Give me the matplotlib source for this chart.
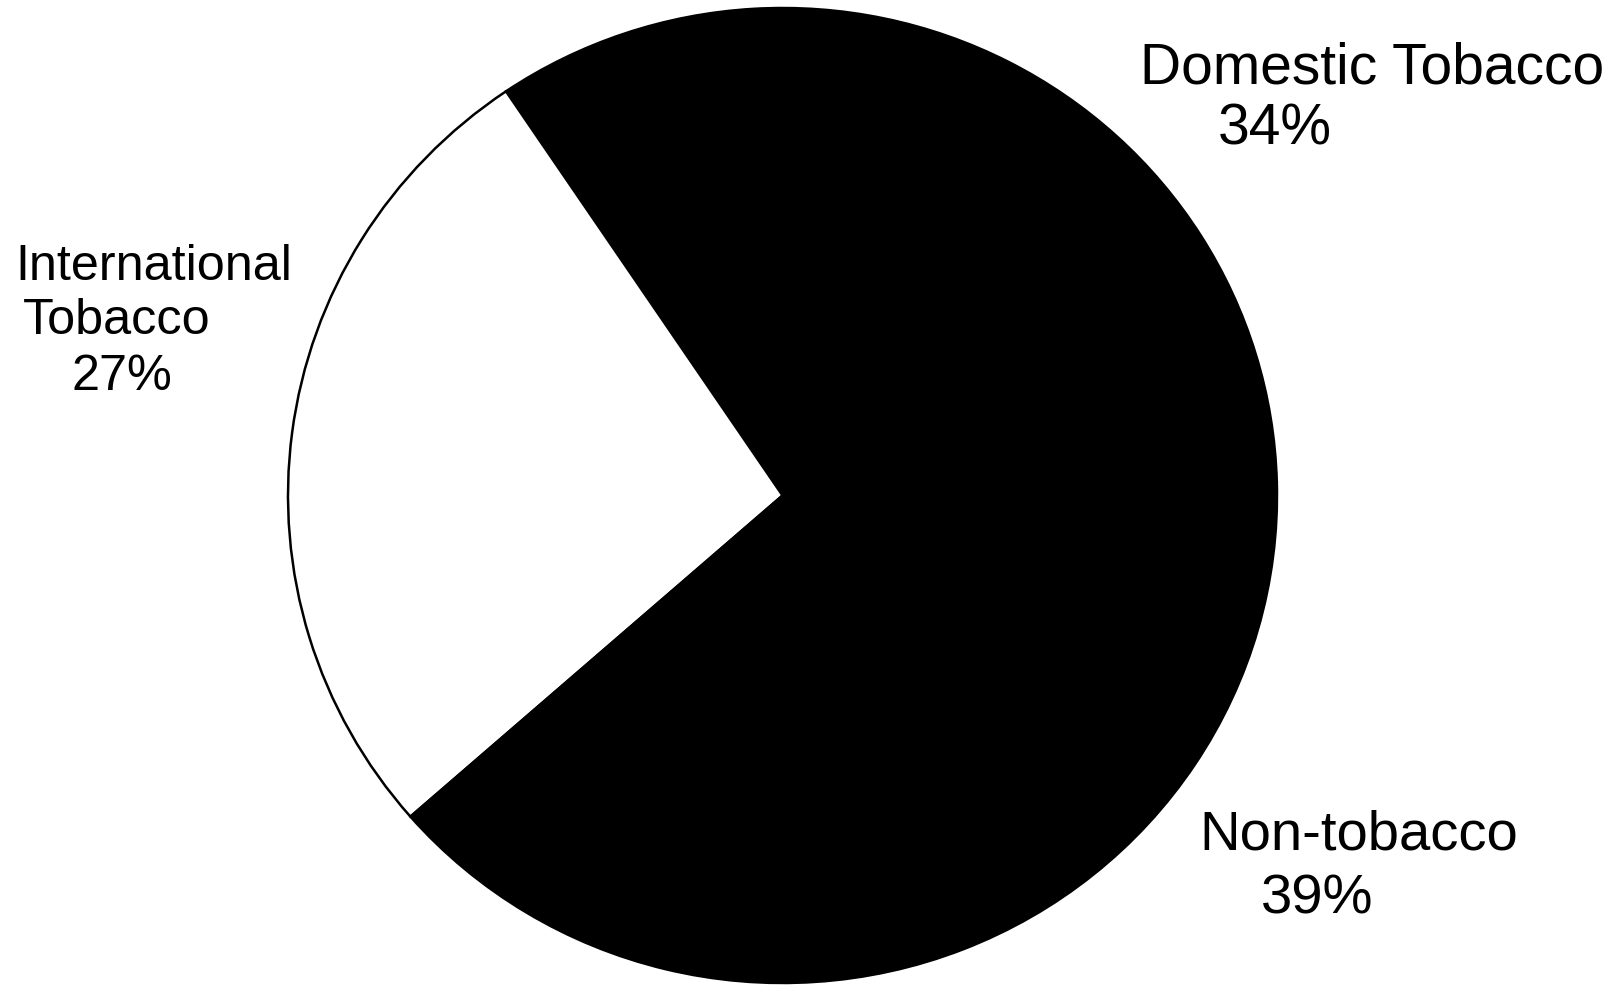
import matplotlib.pyplot as plt

# data
segments = ["Domestic Tobacco", "International Tobacco", "Non-tobacco"]
shares = [34, 27, 39]
colors = ["black", "white", "black"]

# how each label is broken into lines
label_lines = [
    ["Domestic Tobacco", "34%"],
    ["International", "Tobacco", "27%"],
    ["Non-tobacco", "39%"],
]

W, H = 1614, 985
fig = plt.figure(figsize=(W / 100, H / 100), dpi=100)
ax = fig.add_axes([0, 0, 1, 1])

# the scanned pie is a touch flatter than a circle
k = 494.5 / 487.5
ax.pie(shares, colors=colors, startangle=1.6, counterclock=True,
       center=(782.5, (H - 495.5) * k), radius=494.5,
       wedgeprops=dict(edgecolor="black", linewidth=1.8))
ax.set_aspect("auto")
ax.set_xlim(0, W)
ax.set_ylim(0, H * k)
ax.axis("off")

# label placement (left x, baseline y in pixels from top) and size
pos = [
    [(1140, 83), (1218, 145)],
    [(15, 280), (23, 334), (72, 390)],
    [(1199, 849), (1261, 914)],
]
sizes = [41, 36.3, 40.5]

for lines, pts, fs in zip(label_lines, pos, sizes):
    for txt, (x, y) in zip(lines, pts):
        ax.text(x, (H - y) * k, txt, ha="left", va="baseline",
                fontsize=fs, family="Liberation Sans", color="black")

fig.savefig("out.png", dpi=100)
